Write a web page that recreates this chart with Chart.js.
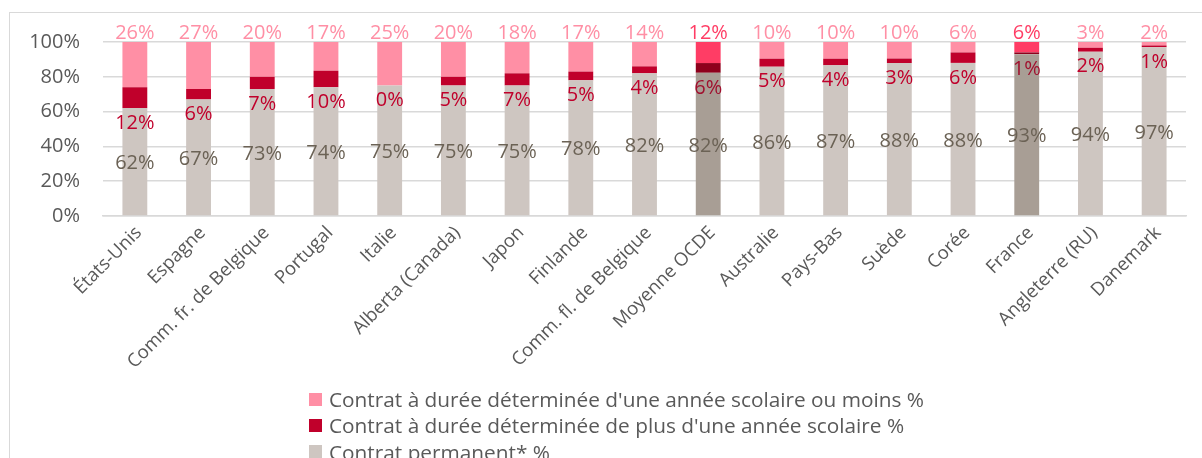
<!DOCTYPE html>
<html>
<head>
<meta charset="utf-8">
<script src="https://cdn.jsdelivr.net/npm/chart.js@4/dist/chart.umd.min.js"></script>
<style>
  html, body { margin:0; padding:0; width:1202px; height:458px; overflow:hidden; background:#fff; }
  #wrap { position:absolute; left:0; top:0; width:1202px; height:458px; }
  #frame { position:absolute; left:9px; top:12px; width:1300px; height:600px; border:1.5px solid #D9D9D9; box-sizing:border-box; }
  canvas { position:absolute; left:0; top:0; }
  #legend { position:absolute; left:309px; top:386px; font-family:"Open Sans", sans-serif; font-size:20.8px; color:#595959; }
  .li { height:26.3px; line-height:26px; white-space:nowrap; display:flex; align-items:center; }
  .sw { width:13px; height:13px; margin-right:7px; flex:none; }
</style>
</head>
<body>
<div id="wrap">
  <div id="frame"></div>
  <canvas id="c" width="1202" height="458"></canvas>
  <div id="legend"></div>
</div>
<script>
const categories = ['États-Unis','Espagne','Comm. fr. de Belgique','Portugal','Italie','Alberta (Canada)','Japon','Finlande','Comm. fl. de Belgique','Moyenne OCDE','Australie','Pays-Bas','Suède','Corée','France','Angleterre (RU)','Danemark'];
const permanent = [62, 67, 73, 74, 75, 75, 75, 78, 82, 82.3, 85.8, 86.6, 87.9, 88, 93, 94.4, 97];
const fixedLong = [12, 6, 7, 9.5, 0, 5, 7, 5, 4, 5.6, 4.6, 3.8, 2.6, 6, 1, 2.3, 1];
const fixedShort = [26, 27, 20, 16.5, 25, 20, 18, 17, 14, 12.1, 9.6, 9.6, 9.5, 6, 6, 3.3, 2];
const highlighted = ['Moyenne OCDE', 'France'];
const yTicks = [0, 20, 40, 60, 80, 100];
const seriesNames = [
  "Contrat à durée déterminée d'une année scolaire ou moins %",
  "Contrat à durée déterminée de plus d'une année scolaire %",
  "Contrat permanent* %"
];

const FONT = '"Open Sans", sans-serif';
const isHi = categories.map(c => highlighted.includes(c));
const pick = (n, h) => isHi.map(b => b ? h : n);

const colPerm = pick('#CEC6C1', '#A89E95');
const colLong = pick('#C0002B', '#8E001C');
const colShort = pick('#FF8FA5', '#FF3D65');

const labelPlugin = {
  id: 'valueLabels',
  afterDatasetsDraw(chart) {
    const ctx = chart.ctx;
    ctx.save();
    ctx.font = '20px ' + FONT;
    ctx.textAlign = 'center';
    ctx.textBaseline = 'middle';
    chart.data.datasets.forEach((ds, di) => {
      const meta = chart.getDatasetMeta(di);
      meta.data.forEach((bar, i) => {
        const v = ds.data[i];
        const txt = Math.round(v) + '%';
        let y, color;
        if (ds.role === 'perm') {
          y = (bar.y + bar.base) / 2 + 2;
          color = '#6B6255';
        } else if (ds.role === 'long') {
          y = bar.base + 15;
          color = isHi[i] ? '#A0102E' : '#C0002B';
        } else {
          y = chart.chartArea.top - 9;
          color = isHi[i] ? '#FF3D65' : '#FF8FA5';
        }
        ctx.fillStyle = color;
        ctx.fillText(txt, bar.x, y);
      });
    });
    ctx.restore();
  }
};

const chart = new Chart(document.getElementById('c'), {
  type: 'bar',
  data: {
    labels: categories,
    datasets: [
      { role:'perm', label: seriesNames[2], data: permanent, backgroundColor: colPerm },
      { role:'long', label: seriesNames[1], data: fixedLong, backgroundColor: colLong },
      { role:'short', label: seriesNames[0], data: fixedShort, backgroundColor: colShort }
    ]
  },
  options: {
    responsive: false,
    animation: false,
    devicePixelRatio: 1,
    layout: { padding: { left: 10, top: 42, right: 16, bottom: 0 } },
    datasets: { bar: { categoryPercentage: 1, barPercentage: 0.39, borderWidth: 0 } },
    plugins: { legend: { display: false }, tooltip: { enabled: false } },
    scales: {
      x: {
        stacked: true,
        grid: { display: false, drawTicks: false },
        border: { display: true, color: '#D9D9D9', width: 1.5 },
        ticks: { color: '#595959', font: { family: FONT, size: 18.5 }, minRotation: 45, maxRotation: 45, autoSkip: false, padding: 6, labelOffset: 4 },
        afterFit(s) { s.height = 458 - 216; }
      },
      y: {
        stacked: true,
        min: 0, max: 100,
        afterBuildTicks(s) { s.ticks = yTicks.map(v => ({ value: v })); },
        grid: { color: '#D9D9D9', lineWidth: 1.5, drawTicks: false },
        border: { display: false },
        ticks: { color: '#595959', font: { family: FONT, size: 20 }, padding: 23, callback: v => v + '%' },
        afterFit(s) { s.width = 93; }
      }
    }
  },
  plugins: [labelPlugin]
});

// HTML legend built from the datasets
const legendEl = document.getElementById('legend');
const order = [2, 1, 0];
order.forEach(di => {
  const ds = chart.data.datasets[di];
  const row = document.createElement('div');
  row.className = 'li';
  const sw = document.createElement('span');
  sw.className = 'sw';
  sw.style.background = Array.isArray(ds.backgroundColor) ? ds.backgroundColor[0] : ds.backgroundColor;
  const t = document.createElement('span');
  t.textContent = ds.label;
  row.appendChild(sw); row.appendChild(t);
  legendEl.appendChild(row);
});
</script>
</body>
</html>
